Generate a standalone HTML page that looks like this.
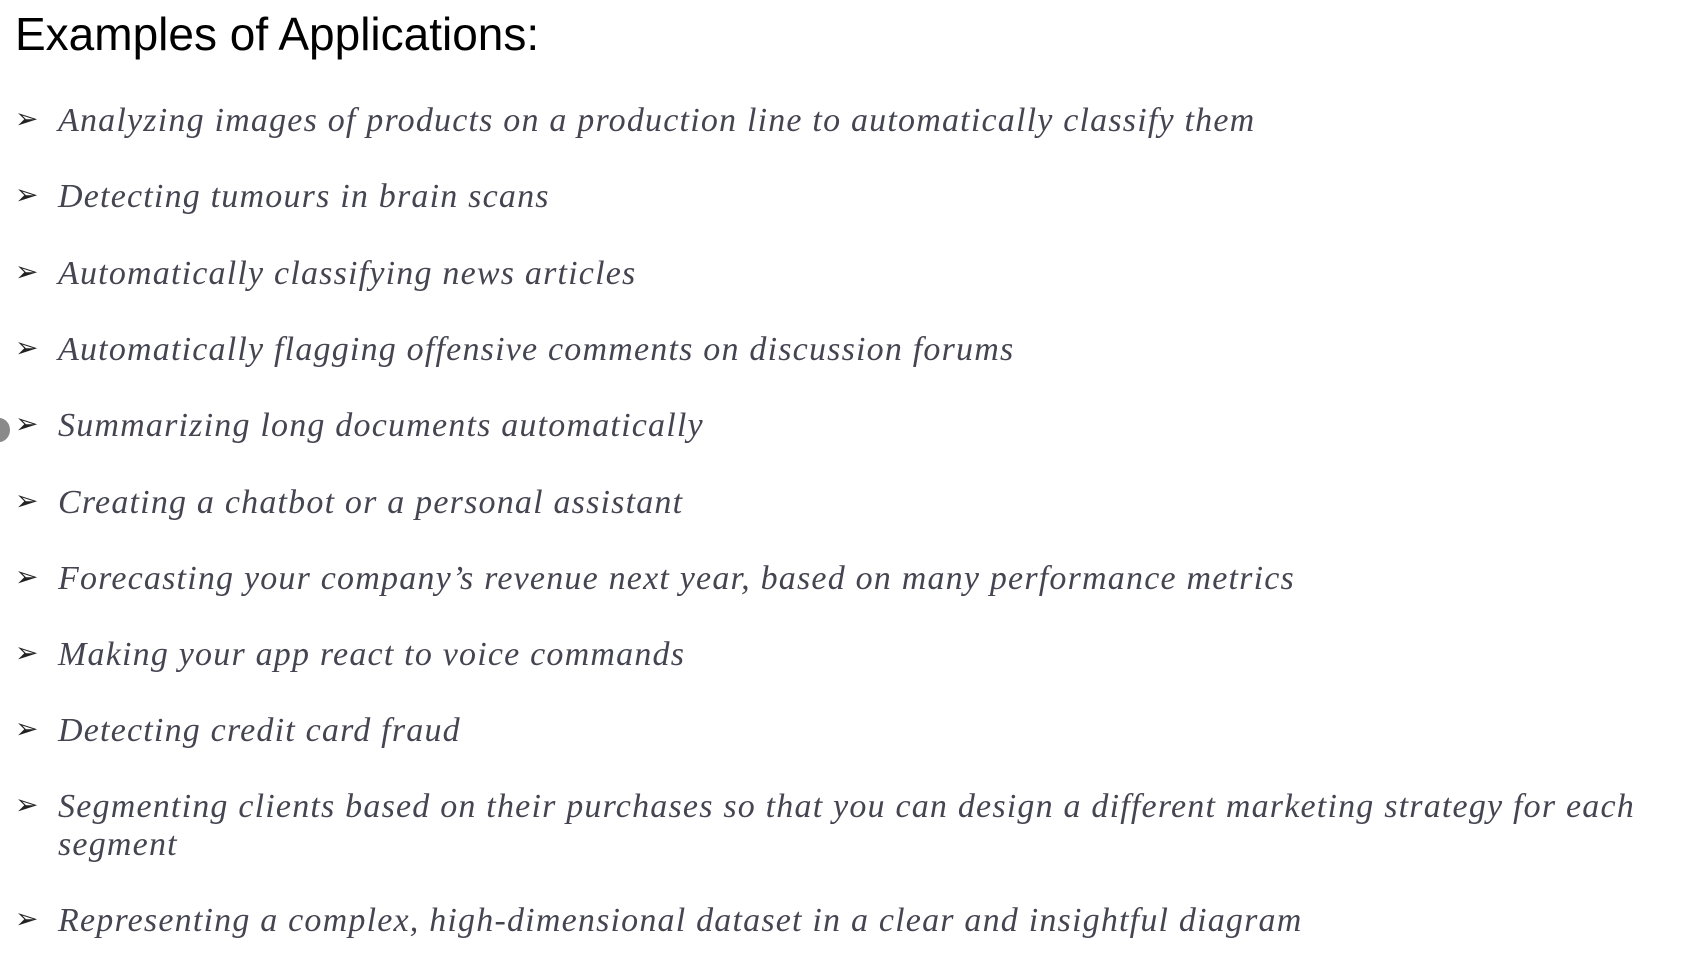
<!DOCTYPE html>
<html><head><meta charset="utf-8"><style>
body{margin:0;width:1685px;height:959px;background:#fff;position:relative;overflow:hidden;font-family:"Liberation Serif",serif}
.t{position:absolute;left:15px;top:7px;font-family:"Liberation Sans",sans-serif;font-size:46px;color:#000;white-space:nowrap}
.i{position:absolute;left:0;width:1685px}
.b{position:absolute;left:15px;font-size:28px;color:#222;font-family:"DejaVu Sans",sans-serif}
.x{position:absolute;left:58px;font-style:italic;font-size:34px;letter-spacing:1.2px;color:#454552;line-height:38px;white-space:nowrap}
.dot{position:absolute;left:-12px;top:418px;width:22px;height:24px;border-radius:50%;background:#8a8a8a}
</style></head><body>
<div class="t">Examples of Applications:</div>
<div class="dot"></div>
<div id="list"></div>
<script>
const items=["Analyzing images of products on a production line to automatically classify them","Detecting tumours in brain scans","Automatically classifying news articles","Automatically flagging offensive comments on discussion forums","Summarizing long documents automatically","Creating a chatbot or a personal assistant","Forecasting your company’s revenue next year, based on many performance metrics","Making your app react to voice commands","Detecting credit card fraud","Segmenting clients based on their purchases so that you can design a different marketing strategy for each<br>segment","Representing a complex, high-dimensional dataset in a clear and insightful diagram"];
const list=document.getElementById('list');
items.forEach((t,k)=>{
 const y=[121,197,274,350,426,503,579,655,731,807,921][k];
 const d=document.createElement('div');d.className='i';d.style.top=(y-19)+'px';
 
 
 d.innerHTML='<span class="b" style="top:0px">➢</span><span class="x">'+t+'</span>';
 list.appendChild(d);
});
</script>
</body></html>
